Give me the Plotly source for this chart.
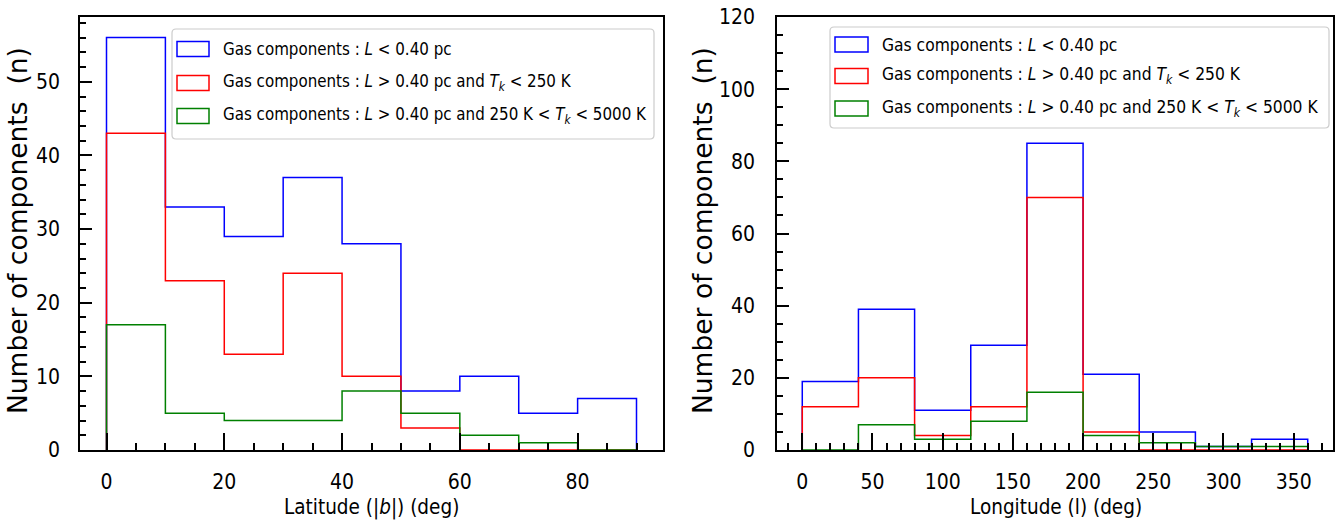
import plotly.graph_objects as go

# ---------------- data ----------------
lat_edges = [0, 10, 20, 30, 40, 50, 60, 70, 80, 90]
lat_blue = [56, 33, 29, 37, 28, 8, 10, 5, 7]
lat_red = [43, 23, 13, 24, 10, 3, 0, 0, 0]
lat_green = [17, 5, 4, 4, 8, 5, 2, 1, 0]

lon_edges = [0, 40, 80, 120, 160, 200, 240, 280, 320, 360]
lon_blue = [19, 39, 11, 29, 85, 21, 5, 1, 3]
lon_red = [12, 20, 4, 12, 70, 5, 0, 0, 0]
lon_green = [0, 7, 3, 8, 16, 4, 2, 1, 1]

series_names = [
    "Gas components : <i>L</i> &lt; 0.40 pc",
    "Gas components : <i>L</i> &gt; 0.40 pc and <i>T<sub>k</sub></i> &lt; 250 K",
    "Gas components : <i>L</i> &gt; 0.40 pc and 250 K &lt; <i>T<sub>k</sub></i> &lt; 5000 K",
]
series_colors = ["#0000ff", "#ff0000", "#008000"]

W, H = 1339, 530


def X(px):
    return px / W


def Y(py):
    return 1 - py / H


NARROW = "DejaVu Sans Condensed, DejaVu Sans, sans-serif"
TICKFONT = dict(family=NARROW, size=21, color="black")

fig = go.Figure()


def step_trace(edges, counts, color, name, xa, ya):
    xs = [edges[0]] + list(edges)
    ys = [0] + list(counts) + [0]
    return go.Scatter(x=xs, y=ys, mode="lines", line=dict(color=color, width=1.5, shape="hv"),
                      name=name, showlegend=False, xaxis=xa, yaxis=ya, hoverinfo="skip")


for counts, col, nm in zip([lat_blue, lat_red, lat_green], series_colors, series_names):
    fig.add_trace(step_trace(lat_edges, counts, col, nm, "x", "y"))
for counts, col, nm in zip([lon_blue, lon_red, lon_green], series_colors, series_names):
    fig.add_trace(step_trace(lon_edges, counts, col, nm, "x2", "y2"))

ydom = [Y(450), Y(17)]
common_axis = dict(showgrid=False, zeroline=False, showline=True, linecolor="black", linewidth=1.5,
                   mirror=True, ticks="inside", tickcolor="black", tickwidth=1.5, tickfont=TICKFONT,
                   automargin=False)

fig.update_layout(
    width=W, height=H,
    margin=dict(l=0, r=0, t=0, b=0, pad=0),
    paper_bgcolor="white", plot_bgcolor="white",
    showlegend=False,
    xaxis=dict(domain=[X(80), X(663)], range=[-4.5, 94.5], dtick=20, tick0=0, ticklen=17,
               minor=dict(dtick=5, ticks="inside", ticklen=7, tickwidth=1.5, tickcolor="black"),
               ticklabelstandoff=12, anchor="y", **common_axis),
    yaxis=dict(domain=ydom, range=[0, 58.8], dtick=10, tick0=0, ticklen=12,
               minor=dict(dtick=2, ticks="inside", ticklen=6, tickwidth=1.5, tickcolor="black"),
               ticklabelstandoff=14, anchor="x", **common_axis),
    xaxis2=dict(domain=[X(777), X(1333)], range=[-18, 378], dtick=50, tick0=0, ticklen=17,
                minor=dict(dtick=10, ticks="inside", ticklen=7, tickwidth=1.5, tickcolor="black"),
                ticklabelstandoff=12, anchor="y2", **common_axis),
    yaxis2=dict(domain=ydom, range=[0, 120], dtick=20, tick0=0, ticklen=12,
                minor=dict(dtick=5, ticks="inside", ticklen=6, tickwidth=1.5, tickcolor="black"),
                ticklabelstandoff=16, anchor="x2", **common_axis),
)

annotations = []
shapes = []

# axis titles
YLAB = dict(family="DejaVu Sans, sans-serif", size=26.5, color="black")
XLAB = dict(family=NARROW, size=20.5, color="black")
annotations.append(dict(text="Number of components  (n)", x=X(17), y=Y(231), xref="paper", yref="paper",
                        textangle=-90, showarrow=False, font=YLAB, xanchor="center", yanchor="middle"))
annotations.append(dict(text="Number of components  (n)", x=X(702), y=Y(231), xref="paper", yref="paper",
                        textangle=-90, showarrow=False, font=YLAB, xanchor="center", yanchor="middle"))
annotations.append(dict(text="Latitude (|<i>b</i>|) (deg)", x=X(371), y=Y(507), xref="paper", yref="paper",
                        showarrow=False, font=XLAB, xanchor="center", yanchor="middle"))
annotations.append(dict(text="Longitude (l) (deg)", x=X(1056), y=Y(507), xref="paper", yref="paper",
                        showarrow=False, font=XLAB, xanchor="center", yanchor="middle"))


def rounded_rect(x0, y0, x1, y1, r=4):
    pts = [
        f"M {X(x0 + r)} {Y(y0)}", f"L {X(x1 - r)} {Y(y0)}", f"Q {X(x1)} {Y(y0)} {X(x1)} {Y(y0 + r)}",
        f"L {X(x1)} {Y(y1 - r)}", f"Q {X(x1)} {Y(y1)} {X(x1 - r)} {Y(y1)}",
        f"L {X(x0 + r)} {Y(y1)}", f"Q {X(x0)} {Y(y1)} {X(x0)} {Y(y1 - r)}",
        f"L {X(x0)} {Y(y0 + r)}", f"Q {X(x0)} {Y(y0)} {X(x0 + r)} {Y(y0)}", "Z",
    ]
    return " ".join(pts)


def legend(box, sym_x, rows, text_x, fsize):
    bx0, by0, bx1, by1 = box
    shapes.append(dict(type="path", path=rounded_rect(bx0, by0, bx1, by1), xref="paper", yref="paper",
                       line=dict(color="#cccccc", width=1.2), fillcolor="rgba(255,255,255,0.8)", layer="above"))
    for name, col, cy in zip(series_names, series_colors, rows):
        shapes.append(dict(type="rect", xref="paper", yref="paper",
                           x0=X(sym_x[0]), x1=X(sym_x[1]), y0=Y(cy - 7.5), y1=Y(cy + 7.5),
                           line=dict(color=col, width=1.5), fillcolor="rgba(0,0,0,0)", layer="above"))
        annotations.append(dict(text=name, x=X(text_x), y=Y(cy), xref="paper", yref="paper",
                                showarrow=False, font=dict(family=NARROW, size=fsize, color="black"),
                                xanchor="left", yanchor="middle"))


legend((172, 29, 654, 139), (177, 209), (49, 83, 116), 221, 16.8)
legend((830, 27, 1329, 128), (835, 868), (44.5, 76, 108.5), 880, 17.3)

fig.update_layout(annotations=annotations, shapes=shapes)

fig.write_html("out.html")
